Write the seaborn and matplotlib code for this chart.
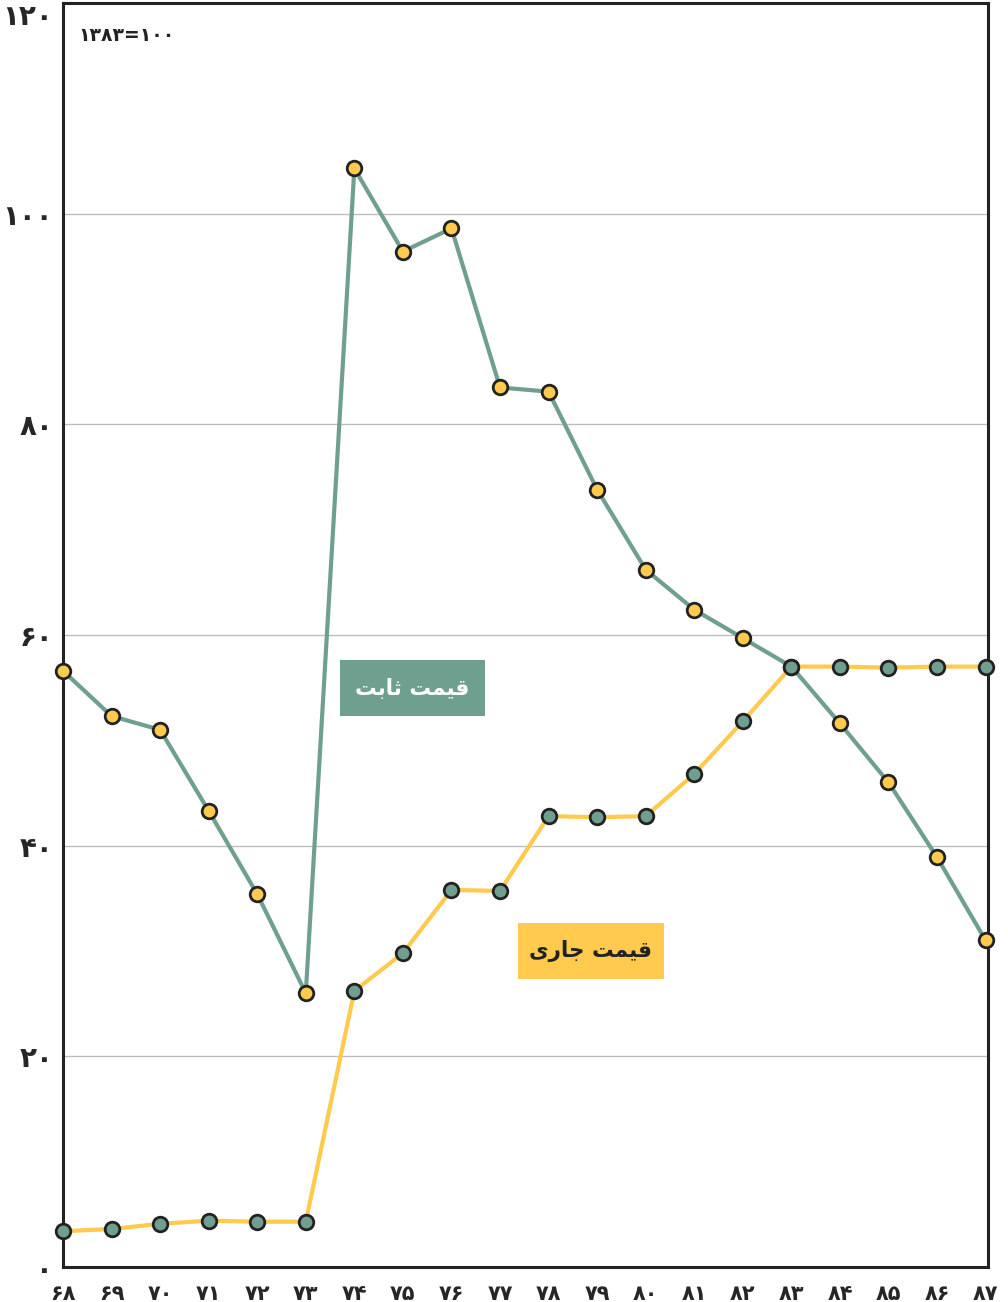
import seaborn as sns
import pandas as pd
import numpy as np
import matplotlib.pyplot as plt
from matplotlib.patches import Rectangle

# data (index, 1383=100)
years = list(range(68, 88))
sabet = [56.6, 52.3, 51.0, 43.3, 35.4, 26.0, 104.3, 96.4, 98.6, 83.5, 83.1,
         73.8, 66.2, 62.4, 59.7, 57.0, 51.6, 46.0, 38.9, 31.0]
jari = [3.4, 3.6, 4.1, 4.4, 4.3, 4.3, 26.2, 29.8, 35.8, 35.7, 42.8,
        42.7, 42.8, 46.8, 51.8, 57.0, 57.0, 56.9, 57.0, 57.0]
yticks = [0, 20, 40, 60, 80, 100, 120]
label_sabet = "قیمت ثابت"
label_jari = "قیمت جاری"
base_note = "۱۳۸۳=۱۰۰"

green = "#6fa08f"
yellow = "#ffca4d"

# matplotlib does no arabic shaping, so map letters to presentation forms
# (isolated, final, initial, medial), joins_left
forms = {
    "ق": ("\ufed5", "\ufed6", "\ufed7", "\ufed8", True),
    "ی": ("\ufbfc", "\ufbfd", "\ufbfe", "\ufbff", True),
    "م": ("\ufee1", "\ufee2", "\ufee3", "\ufee4", True),
    "ت": ("\ufe95", "\ufe96", "\ufe97", "\ufe98", True),
    "ث": ("\ufe99", "\ufe9a", "\ufe9b", "\ufe9c", True),
    "ب": ("\ufe8f", "\ufe90", "\ufe91", "\ufe92", True),
    "ج": ("\ufe9d", "\ufe9e", "\ufe9f", "\ufea0", True),
    "ا": ("\ufe8d", "\ufe8e", "\ufe8d", "\ufe8e", False),
    "ر": ("\ufead", "\ufeae", "\ufead", "\ufeae", False),
}


def shape(s):
    out = []
    for i, ch in enumerate(s):
        if ch not in forms:
            out.append(ch)
            continue
        prev = s[i - 1] if i > 0 else " "
        nxt = s[i + 1] if i < len(s) - 1 else " "
        from_right = prev in forms and forms[prev][4]
        to_left = forms[ch][4] and nxt in forms
        if from_right and to_left:
            out.append(forms[ch][3])
        elif from_right:
            out.append(forms[ch][1])
        elif to_left:
            out.append(forms[ch][2])
        else:
            out.append(forms[ch][0])
    return "".join(reversed(out))


def fa(n):
    return str(n).translate(str.maketrans("0123456789", "۰۱۲۳۴۵۶۷۸۹"))


sns.set_style("white")
plt.rcParams['font.family'] = ['DejaVu Sans']

fig = plt.figure(figsize=(10.08, 13.02), dpi=100)
ax = fig.add_axes([0.0625, 0.0269, 0.9177, 0.9708])

ax.grid(axis="y", color="#bdbdbd", linewidth=1)
ax.set_axisbelow(True)

sns.lineplot(x=years, y=sabet, ax=ax, color=green, linewidth=3, marker="o",
             markersize=10.5, markerfacecolor=yellow, markeredgecolor="#222222",
             markeredgewidth=2, clip_on=False, zorder=3)
sns.lineplot(x=years, y=jari, ax=ax, color=yellow, linewidth=3, marker="o",
             markersize=10.5, markerfacecolor=green, markeredgecolor="#222222",
             markeredgewidth=2, clip_on=False, zorder=3)

ax.set_xlim(68, 87.05)
ax.set_ylim(0, 120)
ax.set_xticks(years)
ax.set_xticklabels([fa(y) for y in years], fontsize=15, fontweight="bold")
ax.set_yticks(yticks)
ax.set_yticklabels([fa(v) for v in yticks], fontsize=20, fontweight="bold")
ax.get_yticklabels()[-1].set_va("top")
ax.tick_params(axis="both", length=0)
ax.tick_params(axis="x", pad=12)
ax.tick_params(axis="y", pad=7)

for s in ax.spines.values():
    s.set_color("#222222")
    s.set_linewidth(2.2)

ax.text(0.017, 0.982, base_note, transform=ax.transAxes, fontsize=13.5,
        fontweight="bold", va="top", ha="left", color="#222222")

# label boxes
ax.add_patch(Rectangle((73.70, 52.30), 3.0, 5.32, fc=green, ec="none", zorder=4))
ax.text(75.2, 54.96, shape(label_sabet), fontsize=15.5, fontweight="bold",
        color="white", ha="center", va="center", zorder=5)
ax.add_patch(Rectangle((77.37, 27.34), 3.0, 5.32, fc=yellow, ec="none", zorder=4))
ax.text(78.87, 30.0, shape(label_jari), fontsize=15.5, fontweight="bold",
        color="#222222", ha="center", va="center", zorder=5)

plt.savefig("out.png", dpi=100)
